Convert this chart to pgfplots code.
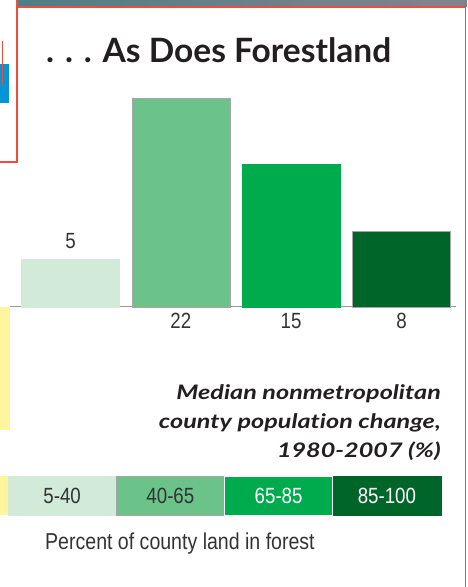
\documentclass[border=0pt]{standalone}
\usepackage{pgfplots}
\pgfplotsset{compat=1.18}
\usepackage{fontspec}
\setmainfont{Liberation Sans}
\newfontfamily\cond[FakeStretch=0.85]{Liberation Sans}
\newfontfamily\titlef{Lato}
\newfontfamily\notef[FakeStretch=1.26, Ligatures=NoCommon]{Lato}
\definecolor{c1}{HTML}{D2EBD8}
\definecolor{c2}{HTML}{6BC389}
\definecolor{c3}{HTML}{00AB4E}
\definecolor{c4}{HTML}{006529}
\definecolor{txt}{HTML}{333333}
\definecolor{frm}{HTML}{EF4B3F}
\definecolor{blu}{HTML}{0096D6}
\definecolor{yel}{HTML}{FFF59D}
\definecolor{ttl}{HTML}{231F20}
\begin{document}
\begin{tikzpicture}[x=1pt,y=1pt]
\useasboundingbox (0,0) rectangle (467,587);
% surrounding page fragments
\shade[left color={rgb,255:red,78;green,127;blue,132}, right color={rgb,255:red,131;green,131;blue,141}] (17,580) rectangle (467,587);
\fill[blu] (0,484) rectangle (9,523);
\draw[frm, line width=1.3pt] (2.7,546) -- (2.7,502);
\fill[yel] (0,157) rectangle (10,280);
\fill[yel] (0,72) rectangle (8,111);
\draw[frm, line width=2pt] (16.5,587) -- (16.5,424.5) -- (0,424.5);
\draw[frm, line width=2pt] (16.5,579.5) -- (465.5,579.5);
\draw[frm, line width=1.6pt] (465.4,0) -- (465.4,587);
% title
\node[anchor=base west, inner sep=0, text=ttl] at (46,524) {\titlef\bfseries\fontsize{33.5}{33.5}\selectfont . . . As Does Forestland};
% main bars
\begin{axis}[at={(15.33pt,280pt)}, anchor=south west, scale only axis,
  width=441.3pt, height=237.5pt, xmin=-0.5, xmax=3.5, ymin=0, ymax=25,
  axis lines=none, clip=false]
\draw[gray!80, line width=1pt] (axis cs:-0.548,0) -- (axis cs:3.494,0);
\addplot[ybar, bar width=98pt, bar shift=0pt, fill=c1, draw=c1,
  nodes near coords, point meta=explicit symbolic,
  nodes near coords style={font=\cond\fontsize{22}{22}\selectfont, text=txt, inner sep=0pt, yshift=11pt}]
  coordinates {(0,5) [5]};
\addplot[ybar, bar width=98pt, bar shift=0pt, fill=c2, draw=gray!70] coordinates {(1,22)};
\addplot[ybar, bar width=98pt, bar shift=0pt, fill=c3, draw=c3] coordinates {(2,15)};
\addplot[ybar, bar width=98pt, bar shift=0pt, fill=c4, draw=gray!70] coordinates {(3,8)};
\addplot[draw=none, mark=none, nodes near coords, point meta=explicit symbolic,
  nodes near coords align={anchor=north},
  nodes near coords style={font=\cond\fontsize{22}{22}\selectfont, text=txt, inner sep=0pt, yshift=-6pt}]
  coordinates {(1,0) [22] (2,0) [15] (3,0) [8]};
\end{axis}
% note
\node[anchor=base east, inner sep=0, text=ttl] at (441,187) {\notef\bfseries\itshape\fontsize{20}{20}\selectfont Median nonmetropolitan};
\node[anchor=base east, inner sep=0, text=ttl] at (441,158) {\notef\bfseries\itshape\fontsize{20}{20}\selectfont county population change,};
\node[anchor=base east, inner sep=0, text=ttl] at (441,129) {\notef\bfseries\itshape\fontsize{20}{20}\selectfont 1980-2007 (\%)};
% legend strip
\begin{axis}[at={(8pt,72pt)}, anchor=south west, scale only axis,
  width=433pt, height=39pt, xmin=-0.5, xmax=3.5, ymin=0, ymax=1,
  axis lines=none, clip=false]
\addplot[ybar, bar width=108pt, bar shift=0pt, fill=c1, draw=c1] coordinates {(0,1)};
\addplot[ybar, bar width=108pt, bar shift=0pt, fill=c2, draw=gray!70] coordinates {(1,1)};
\addplot[ybar, bar width=108pt, bar shift=0pt, fill=c3, draw=white] coordinates {(2,1)};
\addplot[ybar, bar width=108pt, bar shift=0pt, fill=c4, draw=c4] coordinates {(3,1)};
\addplot[draw=none, mark=none, nodes near coords, point meta=explicit symbolic,
  nodes near coords align={anchor=center},
  nodes near coords style={font=\cond\fontsize{22}{22}\selectfont, text=txt, inner sep=0pt}]
  coordinates {(0,0.5) [5-40] (1,0.5) [40-65]};
\addplot[draw=none, mark=none, nodes near coords, point meta=explicit symbolic,
  nodes near coords align={anchor=center},
  nodes near coords style={font=\cond\fontsize{22}{22}\selectfont, text=white, inner sep=0pt}]
  coordinates {(2,0.5) [65-85] (3,0.5) [85-100]};
\end{axis}
\node[anchor=base west, inner sep=0, text=txt] at (45,37) {\cond\fontsize{23}{23}\selectfont Percent of county land in forest};
\end{tikzpicture}
\end{document}
